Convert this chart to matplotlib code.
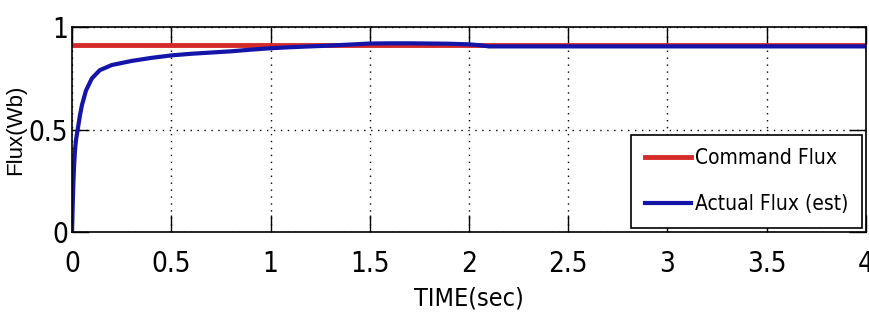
import matplotlib
matplotlib.use("Agg")
import matplotlib.pyplot as plt
from matplotlib import font_manager

# valores
tempo = [0.0, 0.003, 0.006, 0.01, 0.015, 0.02, 0.03, 0.04, 0.05, 0.07, 0.1, 0.14,
         0.2, 0.3, 0.4, 0.5, 0.6, 0.7, 0.8, 0.9, 1.0, 1.1, 1.2, 1.3, 1.4, 1.5,
         1.6, 1.7, 1.8, 1.9, 2.0, 2.05, 2.1, 2.5, 3.0, 3.5, 4.0]
fluxo_real = [0.0, 0.12, 0.22, 0.32, 0.40, 0.45, 0.51, 0.57, 0.62, 0.69, 0.75, 0.79,
              0.815, 0.835, 0.85, 0.862, 0.87, 0.876, 0.882, 0.89, 0.897, 0.902, 0.906,
              0.91, 0.915, 0.92, 0.921, 0.921, 0.92, 0.919, 0.916, 0.912, 0.906,
              0.906, 0.906, 0.906, 0.906]
tempo_cmd = [0.0, 4.0]
fluxo_cmd = [0.912, 0.912]

xticks = [0, 0.5, 1, 1.5, 2, 2.5, 3, 3.5, 4]
xticklabels = ["0", "0.5", "1", "1.5", "2", "2.5", "3", "3.5", "4"]
yticks = [0, 0.5, 1]
yticklabels = ["0", "0.5", "1"]

# fonte estreita (DejaVu Sans Condensed) pra imitar a do MATLAB
estreita = font_manager.FontProperties(family="DejaVu Sans", stretch="condensed", size=20)
estreita_leg = font_manager.FontProperties(family="DejaVu Sans", stretch="condensed", size=15)
estreita_xlab = font_manager.FontProperties(family="DejaVu Sans", stretch="condensed", size=18)

fig = plt.figure(figsize=(8.69, 3.27), dpi=100)
ax = fig.add_axes([0.0829, 0.2905, 0.9136, 0.6265])

ax.plot(tempo_cmd, fluxo_cmd, color="#d42a2a", lw=3.5, label="Command Flux")
ax.plot(tempo, fluxo_real, color="#1414a8", lw=3.0, label="Actual Flux (est)")

ax.set_xlim(0, 4)
ax.set_ylim(0, 1)
ax.set_xticks(xticks)
ax.set_xticklabels(xticklabels, fontproperties=estreita)
ax.set_yticks(yticks)
ax.set_yticklabels(yticklabels, fontproperties=estreita)
ax.tick_params(direction="in", length=12, width=1, top=True, right=True)
ax.tick_params(axis="x", pad=13)
ax.tick_params(axis="y", pad=3)
ax.grid(True, color="black", linestyle=(0, (1, 4)), linewidth=1)
for s in ax.spines.values():
    s.set_linewidth(1.2)

ax.set_xlabel("TIME(sec)", fontproperties=estreita_xlab, labelpad=6)
ax.set_ylabel("Flux(Wb)", fontsize=16, family="Liberation Sans")
ax.yaxis.set_label_coords(-0.058, 0.5)

leg = ax.legend(loc="lower right", prop=estreita_leg,
                frameon=True, fancybox=False, edgecolor="black", framealpha=1,
                handlelength=2.2, handletextpad=0.2, borderpad=0.65,
                labelspacing=1.25, borderaxespad=0.2)
leg.get_frame().set_linewidth(1.2)

plt.savefig("out.png", dpi=100)
